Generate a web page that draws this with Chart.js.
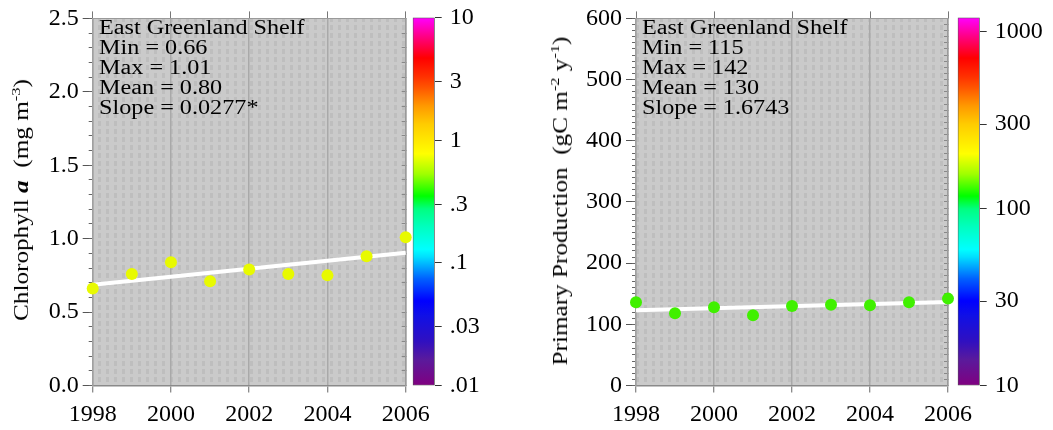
<!DOCTYPE html>
<html>
<head>
<meta charset="utf-8">
<script src="https://cdn.jsdelivr.net/npm/chart.js@4.4.1/dist/chart.umd.min.js"></script>
<style>
  body { margin: 0; background: #fff; width: 1053px; height: 430px; position: relative; overflow: hidden; font-family: "Liberation Serif", "Times New Roman", serif; color: #000; }
  canvas { position: absolute; top: 0; }
  .note { position: absolute; top: 16.6px; font-size: 20px; line-height: 20px; white-space: pre; transform: scaleX(1.21); transform-origin: 0 0; }
  .ytitle { position: absolute; font-size: 20px; line-height: 20px; white-space: nowrap; transform: translate(-50%, -50%) rotate(-90deg) scaleX(1.26); }
  .sup { font-size: 13px; vertical-align: 8px; line-height: 0; }
</style>
</head>
<body>
<canvas id="chlChart" width="440" height="430" style="left:0px"></canvas>
<canvas id="chlBar" width="130" height="430" style="left:400px"></canvas>
<canvas id="ppChart" width="450" height="430" style="left:530px"></canvas>
<canvas id="ppBar" width="108" height="430" style="left:945px"></canvas>

<div class="ytitle" style="left:21px; top:200px">Chlorophyll <b><i>a</i></b>&nbsp; (mg m<span class="sup">-3</span>)</div>
<div class="ytitle" style="left:560px; top:201px">Primary Production&nbsp; (gC m<span class="sup">-2</span> y<span class="sup">-1</span>)</div>
<div class="note" style="left:99.3px">East Greenland Shelf
Min = 0.66
Max = 1.01
Mean = 0.80
Slope = 0.0277*</div>
<div class="note" style="left:641.7px">East Greenland Shelf
Min = 115
Max = 142
Mean = 130
Slope = 1.6743</div>

<script>
//Data
const years = [1998, 1999, 2000, 2001, 2002, 2003, 2004, 2005, 2006];
const chlValues = [0.66, 0.76, 0.84, 0.71, 0.79, 0.76, 0.75, 0.88, 1.01];
const ppValues = [136, 118, 128, 115, 130, 132, 131, 136, 142];

const yearTicks = [1998, 2000, 2002, 2004, 2006];
const chlTicks = [0, 0.5, 1, 1.5, 2, 2.5];
const ppTicks = [0, 100, 200, 300, 400, 500, 600];
const chlMax = 2.5;
const ppMax = 600;

const chlBarRange = [0.01, 10];
const chlBarTicks = [0.01, 0.03, 0.1, 0.3, 1, 3, 10];
const chlBarLabels = [".01", ".03", ".1", ".3", "1", "3", "10"];
const ppBarRange = [10, 1200];
const ppBarTicks = [10, 30, 100, 300, 1000];
const ppBarLabels = ["10", "30", "100", "300", "1000"];

//Colour table of the bars (fraction from bottom, colour)
const colorStops = [
  [0, "#800080"], [0.07, "#5a1a9c"], [0.12, "#3010c0"], [0.19, "#1010e6"],
  [0.23, "#0000ff"], [0.29, "#0060ff"], [0.35, "#00e0ff"], [0.37, "#00ffff"],
  [0.43, "#00ffc0"], [0.48, "#00ff80"], [0.515, "#00ff00"], [0.575, "#a0ff00"],
  [0.63, "#ffff00"], [0.71, "#ffcc00"], [0.76, "#ff9900"], [0.81, "#ff5500"],
  [0.84, "#ff3000"], [0.89, "#ff0000"], [0.947, "#ff0080"], [1, "#ff00ff"]
];

const fontFamily = '"Liberation Serif", "Times New Roman", serif';
const tickFont = { family: fontFamily, size: 24 };

//Grey dotted background of the plot area
const tile = document.createElement("canvas");
tile.width = 8;
tile.height = 8;
const tc = tile.getContext("2d");
tc.fillStyle = "#cacaca";
tc.fillRect(0, 0, 8, 8);
tc.fillStyle = "#bebebe";
tc.fillRect(2, 1, 3, 5);

const bgPlugin = {
  id: "bg",
  beforeDraw(chart) {
    const a = chart.chartArea;
    const c = chart.ctx;
    c.save();
    c.fillStyle = c.createPattern(tile, "repeat");
    c.fillRect(a.left, a.top, a.right - a.left, a.bottom - a.top);
    c.restore();
  },
};

//Least squares trend line
function trendLine(xs, ys) {
  const n = xs.length;
  const mx = xs.reduce((s, v) => s + v, 0) / n;
  const my = ys.reduce((s, v) => s + v, 0) / n;
  let sxy = 0, sxx = 0;
  for (let i = 0; i < n; i++) {
    sxy += (xs[i] - mx) * (ys[i] - my);
    sxx += (xs[i] - mx) * (xs[i] - mx);
  }
  const b = sxy / sxx;
  return [
    { x: xs[0], y: my + b * (xs[0] - mx) },
    { x: xs[n - 1], y: my + b * (xs[n - 1] - mx) },
  ];
}

function setTicks(list) {
  return (scale) => { scale.ticks = list.map((v) => ({ value: v })); };
}

function mainChart(id, values, yMax, yTicks, minorStep, fmt, dotColor, yAxisW, padRight) {
  return new Chart(document.getElementById(id), {
    type: "scatter",
    data: {
      datasets: [
        {
          type: "line",
          data: trendLine(years, values),
          borderColor: "#ffffff",
          borderWidth: 4,
          pointRadius: 0,
          order: 2,
          clip: false,
        },
        {
          data: years.map((x, i) => ({ x: x, y: values[i] })),
          backgroundColor: dotColor,
          borderWidth: 0,
          pointRadius: 6,
          order: 1,
          clip: false,
        },
      ],
    },
    options: {
      responsive: false,
      animation: false,
      layout: { padding: { left: 0, right: padRight, top: 0, bottom: 0 } },
      plugins: { legend: { display: false }, tooltip: { enabled: false } },
      scales: {
        x: {
          type: "linear", min: 1998, max: 2006, position: "bottom",
          afterBuildTicks: setTicks(yearTicks),
          ticks: { callback: (v) => String(v), font: tickFont, color: "#000", padding: 8, maxRotation: 0, autoSkip: false },
          grid: { color: "#a9a9a9", lineWidth: 1.5, tickColor: "#666", tickWidth: 1, tickLength: 7 },
          border: { color: "#8a8a8a", width: 1.5 },
          afterFit: (s) => { s.height = 44.5; },
        },
        xTop: {
          type: "linear", min: 1998, max: 2006, position: "top",
          afterBuildTicks: setTicks(yearTicks),
          ticks: { display: false },
          grid: { drawOnChartArea: false, tickLength: 7, color: "#777" },
          border: { color: "#9a9a9a", width: 1 },
          afterFit: (s) => { s.height = 15; },
        },
        y: {
          type: "linear", min: 0, max: yMax, position: "left", weight: 1,
          afterBuildTicks: setTicks(yTicks),
          ticks: { callback: fmt, font: tickFont, color: "#000", padding: 4 },
          grid: { drawOnChartArea: false, tickLength: 10, color: "#555" },
          border: { color: "#a0a0a0", width: 1.5 },
          afterFit: (s) => { s.width = yAxisW; },
        },
        yMinor: {
          type: "linear", min: 0, max: yMax, position: "left", weight: 0,
          ticks: { display: false, stepSize: minorStep, autoSkip: false, maxTicksLimit: 100 },
          grid: { drawOnChartArea: false, tickLength: 4, color: "#666" },
          border: { display: false },
          afterFit: (s) => { s.width = 0; },
        },
        yRight: {
          type: "linear", min: 0, max: yMax, position: "right",
          ticks: { display: false, stepSize: minorStep, autoSkip: false, maxTicksLimit: 100 },
          grid: { drawOnChartArea: false, tickLength: -4, color: "#888" },
          border: { color: "#9a9a9a", width: 1.5 },
          afterFit: (s) => { s.width = 0; },
        },
      },
    },
    plugins: [bgPlugin],
  });
}

function barGradient(chart) {
  const a = chart.chartArea;
  if (!a) return "#888";
  const g = chart.ctx.createLinearGradient(0, a.bottom, 0, a.top);
  colorStops.forEach((s) => g.addColorStop(s[0], s[1]));
  return g;
}

function colorBar(id, range, ticks, labels, axisW) {
  return new Chart(document.getElementById(id), {
    type: "bar",
    data: {
      labels: [""],
      datasets: [
        {
          data: [range],
          backgroundColor: (ctx) => barGradient(ctx.chart),
          borderColor: "#555",
          borderWidth: 1,
          borderSkipped: false,
          barPercentage: 1,
          categoryPercentage: 1,
        },
      ],
    },
    options: {
      responsive: false,
      animation: false,
      layout: { padding: { left: 12.7, right: 0, top: 10, bottom: 44.5 } },
      plugins: { legend: { display: false }, tooltip: { enabled: false } },
      scales: {
        x: { display: false },
        y: {
          type: "logarithmic", min: range[0], max: range[1], position: "right",
          afterBuildTicks: setTicks(ticks),
          ticks: { callback: (v, i) => labels[i], font: { family: fontFamily, size: 24, lineHeight: 0.8 }, color: "#000", padding: 8 },
          grid: { drawOnChartArea: false, tickLength: 7, color: "#333" },
          border: { display: false },
          afterFit: (s) => { s.width = axisW; },
        },
      },
    },
  });
}

mainChart("chlChart", chlValues, chlMax, chlTicks, 0.1, (v) => v.toFixed(1), "#e8fa00", 92.7, 34.3);
mainChart("ppChart", ppValues, ppMax, ppTicks, 10, (v) => String(v), "#40f000", 106, 31.3);
colorBar("chlBar", chlBarRange, chlBarTicks, chlBarLabels, 95.3);
colorBar("ppBar", ppBarRange, ppBarTicks, ppBarLabels, 73.3);
</script>
</body>
</html>
